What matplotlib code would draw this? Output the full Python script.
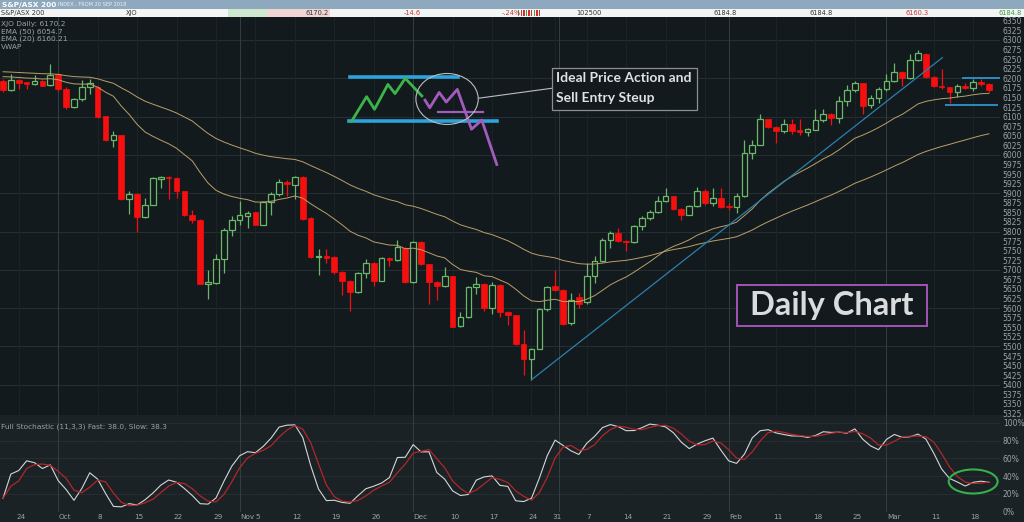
import matplotlib
matplotlib.use("Agg")
import matplotlib.pyplot as plt
from matplotlib.patches import Rectangle, Ellipse
import matplotlib.transforms as mtrans
import numpy as np
import pandas as pd

W, H = 1024, 522

# daily OHLC of XJO (20 Sep 2018 - 20 Mar 2019)
opens = [6193, 6169, 6196, 6190, 6185, 6193, 6182, 6211, 6173, 6126,
         6147, 6178, 6178, 6101, 6040, 6051, 5885, 5897, 5837, 5870,
         5938, 5943, 5940, 5905, 5844, 5830, 5664, 5666, 5728, 5805,
         5831, 5840, 5850, 5818, 5877, 5899, 5929, 5921, 5943, 5835,
         5734, 5737, 5733, 5695, 5672, 5642, 5692, 5718, 5672, 5731,
         5725, 5757, 5667, 5773, 5714, 5668, 5657, 5683, 5554, 5576,
         5655, 5663, 5600, 5661, 5590, 5581, 5507, 5468, 5494, 5598,
         5657, 5648, 5560, 5630, 5615, 5683, 5722, 5779, 5796, 5776,
         5772, 5814, 5836, 5850, 5879, 5892, 5859, 5844, 5866, 5905,
         5875, 5888, 5866, 5864, 5892, 6006, 6027, 6093, 6073, 6062,
         6080, 6065, 6061, 6066, 6090, 6108, 6097, 6141, 6170, 6187,
         6130, 6149, 6171, 6193, 6217, 6200, 6247, 6264, 6204, 6180,
         6176, 6163, 6180, 6175, 6190, 6184]
highs = [6197, 6210, 6197, 6191, 6208, 6195, 6237, 6213, 6176, 6149,
         6196, 6199, 6180, 6102, 6062, 6052, 5905, 5900, 5888, 5942,
         5945, 5945, 5942, 5907, 5856, 5832, 5700, 5740, 5809, 5840,
         5879, 5853, 5852, 5879, 5903, 5936, 5934, 5945, 5945, 5837,
         5754, 5755, 5735, 5697, 5673, 5694, 5727, 5720, 5733, 5733,
         5779, 5760, 5775, 5775, 5716, 5670, 5707, 5685, 5589, 5658,
         5681, 5665, 5667, 5663, 5592, 5583, 5544, 5496, 5600, 5657,
         5699, 5650, 5640, 5640, 5718, 5735, 5782, 5801, 5810, 5778,
         5816, 5840, 5857, 5892, 5914, 5894, 5861, 5868, 5917, 5910,
         5914, 5914, 5875, 5901, 6040, 6040, 6106, 6095, 6075, 6093,
         6093, 6093, 6070, 6119, 6119, 6110, 6154, 6182, 6193, 6189,
         6156, 6177, 6210, 6241, 6219, 6263, 6274, 6266, 6206, 6224,
         6178, 6184, 6189, 6199, 6199, 6189]
lows = [6164, 6167, 6171, 6173, 6182, 6179, 6180, 6167, 6119, 6123,
        6141, 6158, 6097, 6036, 6021, 5882, 5847, 5798, 5835, 5868,
        5914, 5885, 5888, 5840, 5822, 5662, 5624, 5664, 5692, 5788,
        5818, 5809, 5817, 5816, 5844, 5894, 5892, 5885, 5830, 5731,
        5687, 5718, 5688, 5635, 5593, 5640, 5679, 5657, 5670, 5709,
        5722, 5665, 5665, 5712, 5612, 5620, 5655, 5550, 5551, 5574,
        5638, 5592, 5585, 5578, 5557, 5505, 5426, 5413, 5492, 5592,
        5644, 5557, 5555, 5600, 5610, 5666, 5720, 5757, 5772, 5748,
        5770, 5805, 5831, 5849, 5877, 5856, 5829, 5842, 5864, 5870,
        5866, 5862, 5857, 5849, 5890, 5990, 6025, 6071, 6032, 6056,
        6054, 6051, 6049, 6065, 6086, 6077, 6084, 6128, 6163, 6106,
        6123, 6136, 6167, 6190, 6180, 6199, 6245, 6202, 6178, 6173,
        6136, 6152, 6171, 6167, 6180, 6165]
closes = [6169, 6196, 6189, 6186, 6193, 6180, 6208, 6171, 6125, 6147,
          6178, 6187, 6100, 6040, 6051, 5884, 5897, 5837, 5870, 5940,
          5943, 5940, 5905, 5843, 5829, 5664, 5667, 5728, 5805, 5831,
          5842, 5849, 5818, 5877, 5898, 5929, 5923, 5943, 5833, 5734,
          5737, 5730, 5694, 5672, 5642, 5692, 5718, 5672, 5730, 5725,
          5760, 5667, 5773, 5714, 5668, 5657, 5683, 5552, 5576, 5655,
          5663, 5600, 5661, 5589, 5581, 5507, 5467, 5494, 5598, 5655,
          5648, 5559, 5620, 5612, 5683, 5722, 5779, 5796, 5775, 5773,
          5814, 5836, 5850, 5879, 5892, 5859, 5844, 5866, 5905, 5875,
          5888, 5864, 5863, 5892, 6006, 6027, 6093, 6073, 6062, 6080,
          6062, 6061, 6068, 6090, 6108, 6097, 6141, 6170, 6189, 6128,
          6149, 6171, 6193, 6217, 6200, 6247, 6265, 6204, 6180, 6176,
          6163, 6180, 6175, 6190, 6185, 6170]

holidays = ["2018-12-25", "2018-12-26", "2019-01-01", "2019-01-28"]
ema50_seed = 6219
ema20_seed = 6208

date_labels = [("2018-09-24", "24"), ("2018-10-01", "Oct"), ("2018-10-08", "8"),
               ("2018-10-15", "15"), ("2018-10-22", "22"), ("2018-10-29", "29"),
               ("2018-11-01", "Nov"), ("2018-11-05", "5"), ("2018-11-12", "12"),
               ("2018-11-19", "19"), ("2018-11-26", "26"), ("2018-12-03", "Dec"),
               ("2018-12-10", "10"), ("2018-12-17", "17"), ("2018-12-24", "24"),
               ("2018-12-31", "31"), ("2019-01-07", "7"), ("2019-01-14", "14"),
               ("2019-01-21", "21"), ("2019-01-29", "29"), ("2019-02-01", "Feb"),
               ("2019-02-11", "11"), ("2019-02-18", "18"), ("2019-02-25", "25"),
               ("2019-03-01", "Mar"), ("2019-03-11", "11"), ("2019-03-18", "18")]
month_names = ["Oct", "Nov", "Dec", "Feb", "Mar"]

price_ticks = np.arange(5325, 6351, 25)
stoch_ticks = [0, 20, 40, 60, 80, 100]

# hand drawn annotations (x in trading-day index, y in index points)
box_top_x, box_top_y = [44.0, 57.7], 6204
box_bot_x, box_bot_y = [43.9, 62.6], 6088
green_x = [44.2, 46.1, 47.1, 48.8, 49.7, 51.0, 53.1]
green_y = [6088, 6152, 6119, 6184, 6160, 6200, 6154]
purple_x = [53.5, 54.1, 55.3, 56.2, 57.6, 59.4, 60.7, 62.6]
purple_y = [6143, 6123, 6163, 6138, 6171, 6067, 6091, 5975]
trend_x, trend_y = [67, 119.1], [5413, 6254]

# ---- dates / indicators
dates = pd.bdate_range("2018-09-20", "2019-03-20")
dates = dates[~dates.isin(pd.to_datetime(holidays))]
n = len(closes)
idx = np.arange(n)
o, hi, lo, c = map(np.array, (opens, highs, lows, closes))

ema50 = pd.Series([ema50_seed] + closes).ewm(span=50, adjust=False).mean().values[1:]
ema20 = pd.Series([ema20_seed] + closes).ewm(span=20, adjust=False).mean().values[1:]

hh = pd.Series(highs).rolling(11, min_periods=1).max()
ll = pd.Series(lows).rolling(11, min_periods=1).min()
raw_k = 100 * (pd.Series(closes) - ll) / (hh - ll)
fast = raw_k.rolling(3, min_periods=1).mean()
slow = fast.rolling(3, min_periods=1).mean()

# ---- colours
bg = "#131a1d"
bg2 = "#1a2226"
grid = "#263033"
grid_m = "#34403f"
txt = "#9aa3a6"
green = "#6ab86a"
red = "#f50f0f"
tan = "#b9a068"

fig = plt.figure(figsize=(W / 100, H / 100), dpi=100, facecolor=bg)


def fx(x):
    return x / W


def fy(y):
    return 1 - y / H


fig.add_artist(Rectangle((0, 0), 1, fy(415), transform=fig.transFigure,
                         facecolor=bg2, edgecolor="none", zorder=0))

ax = fig.add_axes([0, fy(415), fx(1000), (415 - 17) / H])
ax2 = fig.add_axes([0, fy(512), fx(1000), (512 - 415) / H])
for a in (ax, ax2):
    for s in a.spines.values():
        s.set_visible(False)
    a.set_xlim(-0.38, 126.4)
    a.set_xticks([])
    a.yaxis.tick_right()
    a.tick_params(axis="y", length=0, pad=2, labelsize=5.5, labelcolor=txt)
ax.set_facecolor(bg)
ax2.set_facecolor(bg2)

# grid: horizontal every 100 pts, monthly / weekly verticals
for p in range(5400, 6301, 100):
    ax.axhline(p, color=grid, lw=0.7, zorder=0)
for s in (20, 40, 60, 80, 100):
    ax2.axhline(s, color=grid, lw=0.6, zorder=0)
xlab = mtrans.blended_transform_factory(ax2.transData, ax2.transAxes)
for d, lab in date_labels:
    pos = dates.get_loc(pd.Timestamp(d))
    col = grid_m if lab in month_names else "#1c2427"
    for a in (ax, ax2):
        a.axvline(pos, color=col, lw=0.7, zorder=0)
    if lab in month_names:
        ax2.text(pos + 0.05, -0.055, lab, transform=xlab, ha="left", va="center",
                 fontsize=5.2, color=txt)
    else:
        ax2.text(pos + 0.25, -0.055, lab, transform=xlab, ha="center", va="center",
                 fontsize=5.2, color=txt)
jan = dates.get_loc(pd.Timestamp("2019-01-02")) - 0.5
for a in (ax, ax2):
    a.axvline(jan, color=grid_m, lw=0.7, zorder=0)

# ---- candles
up = c >= o
dn = ~up
ax.vlines(idx[up], lo[up], hi[up], color=green, lw=0.9, zorder=2)
ax.bar(idx[up], c[up] - o[up], bottom=o[up], width=0.72, facecolor=bg,
       edgecolor=green, lw=0.9, zorder=3)
ax.vlines(idx[dn], lo[dn], hi[dn], color=red, lw=0.9, zorder=2)
ax.bar(idx[dn], o[dn] - c[dn], bottom=c[dn], width=0.72, facecolor=red,
       edgecolor=red, lw=0.5, zorder=3)

ax.plot(idx, ema50, color=tan, lw=0.7, zorder=4)
ax.plot(idx, ema20, color=tan, lw=0.7, zorder=4)

ax.set_ylim(5321, 6360)
ax.set_yticks(price_ticks)
ax.set_yticklabels([str(p) for p in price_ticks])

# ---- annotations
ax.plot(trend_x, trend_y, color="#2b7fae", lw=0.9, zorder=5)
ax.plot(box_top_x, [box_top_y] * 2, color="#2ba3dc", lw=2.6, zorder=5)
ax.plot(box_bot_x, [box_bot_y] * 2, color="#2ba3dc", lw=2.6, zorder=5)
ax.plot(green_x, green_y, color="#3bb54a", lw=2.0, zorder=6)
ax.plot(purple_x, purple_y, color="#a45bbf", lw=2.0, zorder=6)
ax.plot([55.2, 60.8], [6112, 6112], color="#a45bbf", lw=1.6, zorder=6)
ax.add_patch(Ellipse((56.3, 6146), 7.9, 133, facecolor="none", edgecolor="#b9bec0", lw=0.8, zorder=6))
ax.plot([60.3, 69.6], [6148, 6174], color="#b9bec0", lw=0.8, zorder=6)
ax.add_patch(Rectangle((69.6, 6116), 18.4, 112, facecolor=bg, edgecolor="#8a9092", lw=0.9, zorder=6))
ax.text(70.1, 6200, "Ideal Price Action and", fontsize=10, fontweight="bold", family="Lato",
        color="#dfe2e2", va="center", ha="left", zorder=7)
ax.text(70.1, 6148, "Sell Entry Steup", fontsize=10, fontweight="bold", family="Lato",
        color="#dfe2e2", va="center", ha="left", zorder=7)

ax.add_patch(Rectangle((93.0, 5554), 24.2, 107, facecolor=bg, edgecolor="#a054b4", lw=1.4, zorder=6))
ax.text(105.1, 5607, "Daily Chart", fontsize=23.5, fontweight="bold", family="Lato",
        color="#d9dcdc", va="center", ha="center", zorder=7)

ax.plot([121.7, 126.4], [6202, 6202], color="#2b8cc4", lw=1.4, zorder=5)
ax.plot([119.5, 126.0], [6129, 6129], color="#2b8cc4", lw=1.4, zorder=5)

for i, line in enumerate(["XJO Daily: 6170.2", "EMA (50) 6054.7", "EMA (20) 6160.21", "VWAP"]):
    fig.text(fx(1), fy(24 + 7.6 * i), line, fontsize=5.3, color=txt, va="center")

# ---- stochastic
ax2.plot(idx, fast, color="#d2d6d6", lw=0.8, zorder=3)
ax2.plot(idx, slow, color="#b3262a", lw=0.9, zorder=3)
ax2.set_ylim(-0.3, 108.7)
ax2.set_yticks(stoch_ticks)
ax2.set_yticklabels([f"{s}%" for s in stoch_ticks])
ax2.add_patch(Ellipse((123.0, 34), 6.2, 27, facecolor="none", edgecolor="#35b04a", lw=1.5, zorder=4))
fig.text(fx(1), fy(427), "Full Stochastic (11,3,3) Fast: 38.0, Slow: 38.3",
         fontsize=5.3, color=txt, va="center")

# ---- header bars
fig.add_artist(Rectangle((0, fy(9)), 1, 9 / H, transform=fig.transFigure,
                         facecolor="#8ea8be", edgecolor="none"))
fig.add_artist(Rectangle((0, fy(17)), 1, 8 / H, transform=fig.transFigure,
                         facecolor="#f3f5f5", edgecolor="none"))
fig.add_artist(Rectangle((fx(228), fy(17)), fx(39), 8 / H, transform=fig.transFigure,
                         facecolor="#cfe6cf", edgecolor="none"))
fig.add_artist(Rectangle((fx(267), fy(17)), fx(63), 8 / H, transform=fig.transFigure,
                         facecolor="#f1d4d4", edgecolor="none"))
fig.text(fx(2), fy(4.6), "S&P/ASX 200", fontsize=5.3, fontweight="bold", color="white", va="center")
fig.text(fx(58), fy(4.6), "INDEX , FROM 20 SEP 2018", fontsize=3.6, color="#eef2f5", va="center")
head = [(1, "S&P/ASX 200", "#333333"), (126, "XJO", "#333333"), (305, "6170.2", "#333333"),
        (404, "-14.6", "#cc3333"), (502, "-.24%", "#cc3333"), (576, "102500", "#333333"),
        (713, "6184.8", "#333333"), (810, "6184.8", "#333333"), (905, "6160.3", "#cc3333")]
for x, s, col in head:
    fig.text(fx(x), fy(13), s, fontsize=4.8, color=col, va="center")
fig.text(fx(1022), fy(13), "6184.8", fontsize=4.8, color="#3a9a3a", va="center", ha="right")
for k in range(9):
    fig.add_artist(Rectangle((fx(518 + 2.6 * k), fy(16)), fx(1.4), 6 / H, transform=fig.transFigure,
                             facecolor="#d03030" if k % 3 else "#40a040", edgecolor="none"))

fig.savefig("out.png", dpi=100, facecolor=bg)
